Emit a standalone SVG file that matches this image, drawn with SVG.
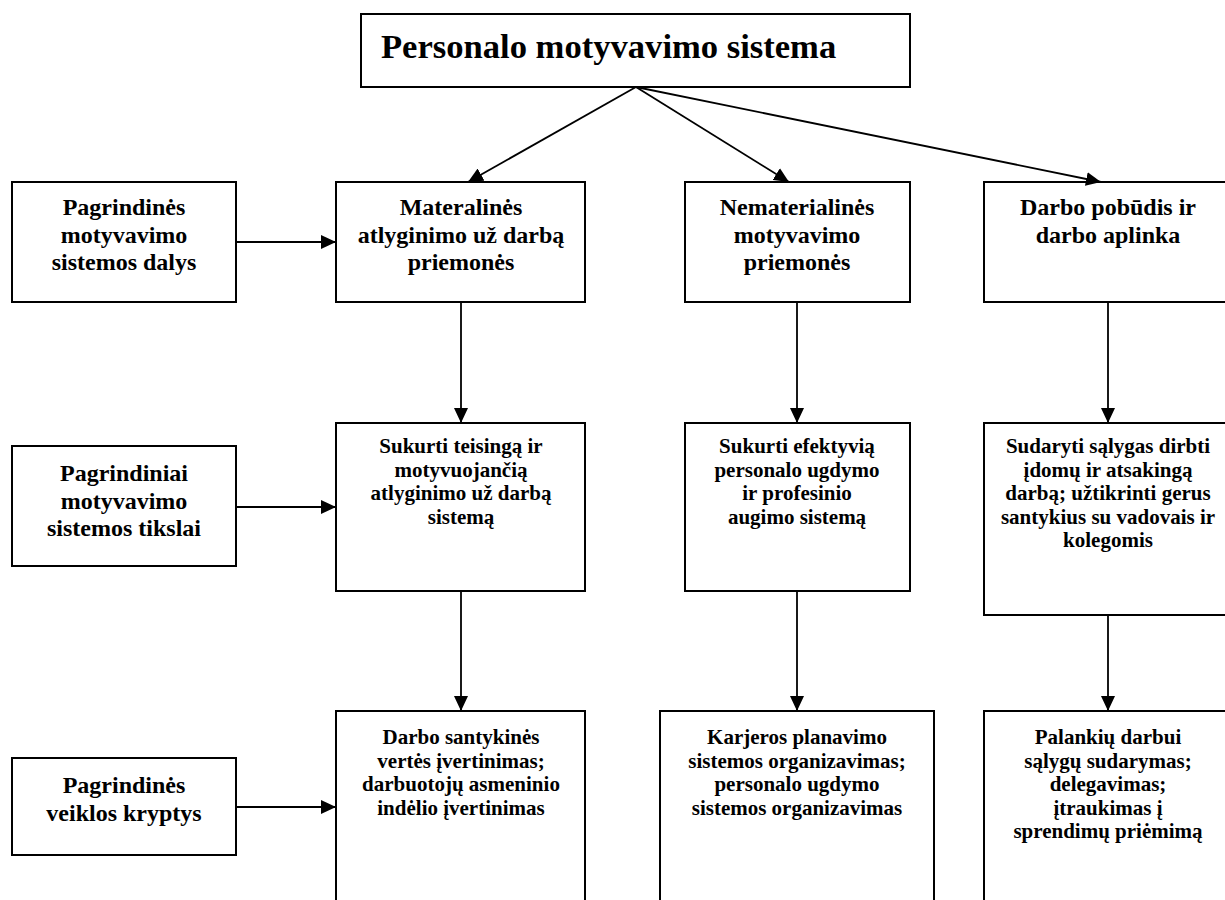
<svg xmlns="http://www.w3.org/2000/svg" width="1225" height="900" viewBox="0 0 1225 900">
<defs>
<marker id="ah" markerUnits="userSpaceOnUse" markerWidth="16" markerHeight="14" refX="15" refY="7" orient="auto">
<path d="M0,0 L15,7 L0,14 z" fill="#000"/>
</marker>
<style>
.box{fill:#fff;stroke:#000;stroke-width:2}
.t{font-family:"Liberation Serif","Times New Roman",serif;font-weight:bold;text-anchor:middle;fill:#000}
.l{font-size:24px}
.s{font-size:21px}
.ttl{font-family:"Liberation Serif","Times New Roman",serif;font-weight:bold;font-size:34.6px;fill:#000}
.c{stroke:#000;stroke-width:1.8;fill:none;marker-end:url(#ah)}
</style>
</defs>
<rect width="1225" height="900" fill="#fff"/>

<g id="title">
<rect class="box" x="361" y="14" width="549" height="73"/>
<text class="ttl" x="381" y="58">Personalo motyvavimo sistema</text>
</g>

<g id="left1">
<rect class="box" x="12" y="182" width="224" height="120"/>
<text class="t l" x="124" y="215">Pagrindinės</text>
<text class="t l" x="124" y="242.5">motyvavimo</text>
<text class="t l" x="124" y="270">sistemos dalys</text>
</g>
<g id="left2">
<rect class="box" x="12" y="446" width="224" height="120"/>
<text class="t l" x="124" y="481">Pagrindiniai</text>
<text class="t l" x="124" y="508.5">motyvavimo</text>
<text class="t l" x="124" y="536">sistemos tikslai</text>
</g>
<g id="left3">
<rect class="box" x="12" y="758" width="224" height="97"/>
<text class="t l" x="124" y="793">Pagrindinės</text>
<text class="t l" x="124" y="820.5">veiklos kryptys</text>
</g>

<g id="mat1">
<rect class="box" x="336" y="182" width="249" height="120"/>
<text class="t l" x="461" y="215">Materalinės</text>
<text class="t l" x="461" y="242.5">atlyginimo už darbą</text>
<text class="t l" x="461" y="270">priemonės</text>
</g>
<g id="nemat1">
<rect class="box" x="685" y="182" width="225" height="120"/>
<text class="t l" x="797" y="215">Nematerialinės</text>
<text class="t l" x="797" y="242.5">motyvavimo</text>
<text class="t l" x="797" y="270">priemonės</text>
</g>
<g id="darbo1">
<rect class="box" x="984" y="182" width="250" height="120"/>
<text class="t l" x="1108" y="215">Darbo pobūdis ir</text>
<text class="t l" x="1108" y="242.5">darbo aplinka</text>
</g>

<g id="mat2">
<rect class="box" x="336" y="423" width="249" height="168"/>
<text class="t s" x="461" y="453">Sukurti teisingą ir</text>
<text class="t s" x="461" y="476.5">motyvuojančią</text>
<text class="t s" x="461" y="500">atlyginimo už darbą</text>
<text class="t s" x="461" y="523.5">sistemą</text>
</g>
<g id="nemat2">
<rect class="box" x="685" y="423" width="225" height="168"/>
<text class="t s" x="797" y="453">Sukurti efektyvią</text>
<text class="t s" x="797" y="476.5">personalo ugdymo</text>
<text class="t s" x="797" y="500">ir profesinio</text>
<text class="t s" x="797" y="523.5">augimo sistemą</text>
</g>
<g id="darbo2">
<rect class="box" x="984" y="423" width="250" height="192"/>
<text class="t s" x="1108" y="453">Sudaryti sąlygas dirbti</text>
<text class="t s" x="1108" y="476.5">įdomų ir atsakingą</text>
<text class="t s" x="1108" y="500">darbą; užtikrinti gerus</text>
<text class="t s" x="1108" y="523.5">santykius su vadovais ir</text>
<text class="t s" x="1108" y="547">kolegomis</text>
</g>

<g id="mat3">
<rect class="box" x="336" y="711" width="249" height="210"/>
<text class="t s" x="461" y="744">Darbo santykinės</text>
<text class="t s" x="461" y="767.5">vertės įvertinimas;</text>
<text class="t s" x="461" y="791">darbuotojų asmeninio</text>
<text class="t s" x="461" y="814.5">indėlio įvertinimas</text>
</g>
<g id="nemat3">
<rect class="box" x="660" y="711" width="274" height="210"/>
<text class="t s" x="797" y="744">Karjeros planavimo</text>
<text class="t s" x="797" y="767.5">sistemos organizavimas;</text>
<text class="t s" x="797" y="791">personalo ugdymo</text>
<text class="t s" x="797" y="814.5">sistemos organizavimas</text>
</g>
<g id="darbo3">
<rect class="box" x="984" y="711" width="250" height="210"/>
<text class="t s" x="1108" y="744">Palankių darbui</text>
<text class="t s" x="1108" y="767.5">sąlygų sudarymas;</text>
<text class="t s" x="1108" y="791">delegavimas;</text>
<text class="t s" x="1108" y="814.5">įtraukimas į</text>
<text class="t s" x="1108" y="838">sprendimų priėmimą</text>
</g>

<g id="connectors">
<line class="c" x1="636" y1="87" x2="468" y2="182"/>
<line class="c" x1="636" y1="87" x2="789" y2="182"/>
<line class="c" x1="636" y1="87" x2="1101" y2="182"/>
<line class="c" x1="236" y1="242" x2="336" y2="242"/>
<line class="c" x1="236" y1="507" x2="336" y2="507"/>
<line class="c" x1="236" y1="807" x2="336" y2="807"/>
<line class="c" x1="461" y1="302" x2="461" y2="423"/>
<line class="c" x1="797" y1="302" x2="797" y2="423"/>
<line class="c" x1="1108" y1="302" x2="1108" y2="423"/>
<line class="c" x1="461" y1="591" x2="461" y2="711"/>
<line class="c" x1="797" y1="591" x2="797" y2="711"/>
<line class="c" x1="1108" y1="615" x2="1108" y2="711"/>
</g>
</svg>
